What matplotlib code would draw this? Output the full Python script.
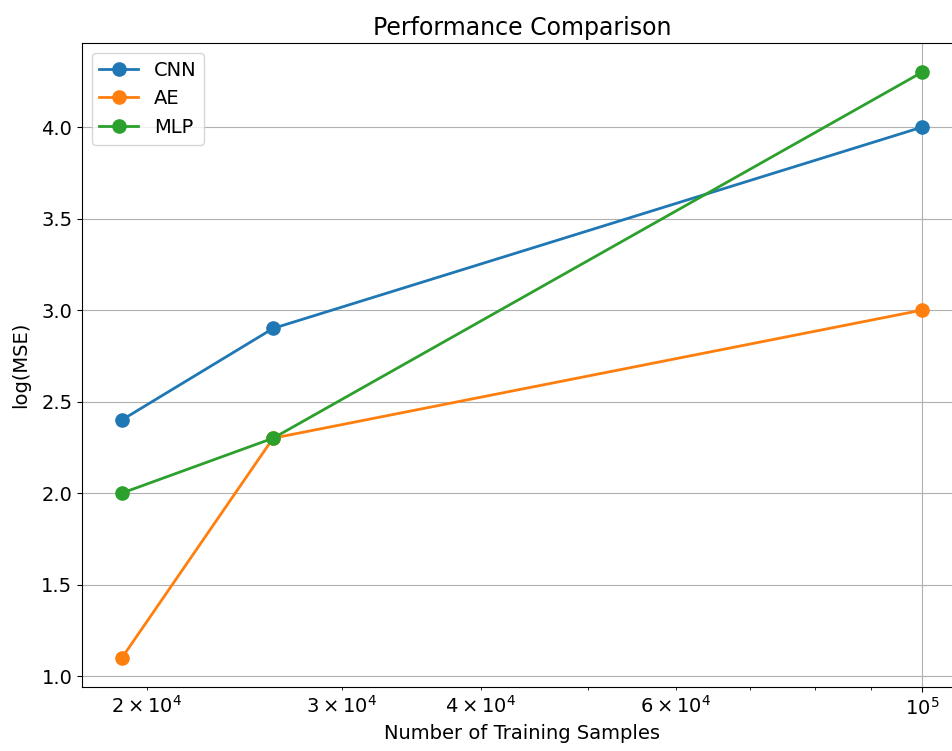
import numpy as np
import matplotlib
matplotlib.use('Agg')
import matplotlib.pyplot as plt

samples = [19000, 26000, 100000]
cnn = [2.4, 2.9, 4.0]
ae = [1.1, 2.3, 3.0]
mlp = [2.0, 2.3, 4.3]

fig = plt.figure(figsize=(9.53, 7.51), dpi=100)
ax = fig.add_axes([82/953, 1 - 687/751, (962 - 82)/953, (687 - 43)/751])

ax.plot(samples, cnn, marker='o', markersize=9.5, linewidth=2, label='CNN')
ax.plot(samples, ae, marker='o', markersize=9.5, linewidth=2, label='AE')
ax.plot(samples, mlp, marker='o', markersize=9.5, linewidth=2, label='MLP')

ax.set_xscale('log')
ax.set_xlabel('Number of Training Samples', fontsize=14)
ax.set_ylabel('log(MSE)', fontsize=14, labelpad=8)
ax.set_title('Performance Comparison', fontsize=17)
ax.tick_params(which='both', labelsize=14)
ax.grid(True)
ax.legend(fontsize=14, loc='upper left')

fig.savefig('out.png', dpi=100)
